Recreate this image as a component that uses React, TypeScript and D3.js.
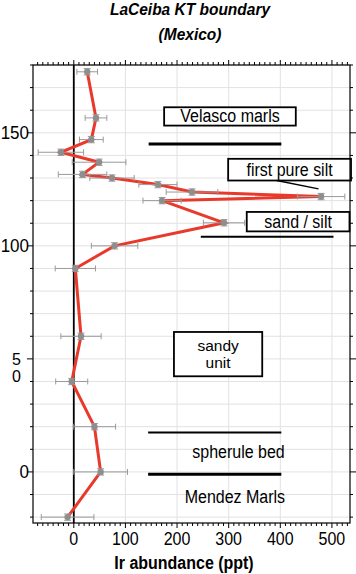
import React from "react";
import * as d3 from "d3";

// Data: Ir abundance (ppt) vs stratigraphic height
const irValues = [26, 43, 34, -25, 49, 17, 74, 163, 229, 479, 171, 291, 79, 3, 14, -4, 40, 52, -12];
const heights = [177, 156.6, 147, 141.4, 137, 131.6, 130, 127.1, 123.8, 121.8, 120, 110.2, 100, 90, 60, 40, 20, 0, -20];
const irErrors = [20, 21, 23, 44, 52, 47, 43, 37, 50, 46, 37, 40, 45, 39, 39, 31, 41, 52, 51];
const heightErrors = [1.4, 1.4, 1.4, 1.4, 1.4, 1.4, 1.4, 1.4, 1.4, 1.4, 1.4, 1.4, 1.4, 1.4, 1.4, 1.4, 1.4, 1.4, 1.4];

const xTickValues = [0, 100, 200, 300, 400, 500];
const yTickLabels = [
  { v: 150, lines: ["150"] },
  { v: 100, lines: ["100"] },
  { v: 50, lines: ["5", "0"] },
  { v: 0, lines: ["0"] },
];

const boxLabels = [
  { x0: 175, x1: 430, y0: 153.2, y1: 161.3, lines: ["Velasco marls"] },
  { x0: 299, x1: 537, y0: 128.9, y1: 138.5, lines: ["first pure silt"] },
  { x0: 335, x1: 534, y0: 106.4, y1: 115, lines: ["sand / silt"] },
  { x0: 194, x1: 365, y0: 42.3, y1: 61.9, lines: ["sandy", "unit"] },
];
const boundaryLines = [
  { x0: 145, x1: 402, y: 145, w: 3 },
  { x0: 246, x1: 503, y: 104, w: 2 },
  { x0: 144, x1: 402, y: 17.4, w: 2 },
  { x0: 144, x1: 402, y: -1, w: 3 },
];
const pointerLines = [{ x0: 393, y0: 128.9, x1: 474, y1: 125.2 }];
const freeLabels = [
  { x: 319, y: 9, text: "spherule bed" },
  { x: 312, y: -11, text: "Mendez Marls" },
];

const W = 356;
const H = 574;
const L = 33, R = 350, T = 65, B = 523;
const FONT = "'Liberation Sans', Arial, Helvetica, sans-serif";

export default function App() {
  const x = d3.scaleLinear().domain([-79, 535]).range([L, R]);
  const y = d3.scaleLinear().domain([-22.6, 180]).range([B, T]);

  const xMinor = d3.range(-70, 531, 10);
  const yMinor = d3.range(-20, 181, 10);
  const gridY = d3.range(-20, 181, 10);
  const gridX = [100, 200, 300, 400, 500];

  const line = d3
    .line<number>()
    .x((_, i) => x(irValues[i]))
    .y((_, i) => y(heights[i]));

  const vtext = (tx: number, ty: number, content: any, props: any, sy = 1.1) => (
    <text
      transform={`translate(${tx},${ty}) scale(1,${sy})`}
      fontFamily={FONT}
      {...props}
    >
      {content}
    </text>
  );

  return (
    <svg
      width={W}
      height={H}
      style={{ position: "absolute", left: 0, top: 0, background: "#fff" }}
    >
      <rect x={0} y={0} width={W} height={H} fill="#fff" />
      {/* grid */}
      {gridY.map((v) => (
        <line key={"gy" + v} x1={L} x2={R} y1={y(v)} y2={y(v)} stroke="#e2e2e2" strokeWidth={1} />
      ))}
      {gridX.map((v) => (
        <line key={"gx" + v} x1={x(v)} x2={x(v)} y1={T} y2={B} stroke="#e2e2e2" strokeWidth={1} />
      ))}
      {/* zero line */}
      <line x1={x(0)} x2={x(0)} y1={T} y2={B} stroke="#000" strokeWidth={1.8} />

      {/* data line */}
      <path d={line(irValues) || ""} fill="none" stroke="#e8392b" strokeWidth={3} strokeLinejoin="miter" />

      {/* error bars */}
      {irValues.map((v, i) => {
        const cx = x(v);
        const cy = y(heights[i]);
        const xl = x(v - irErrors[i]);
        const xr = x(v + irErrors[i]);
        const yt = y(heights[i] + heightErrors[i]);
        const yb = y(heights[i] - heightErrors[i]);
        return (
          <g key={"e" + i} stroke="#9a9a9a" strokeWidth={1}>
            <line x1={xl} x2={xr} y1={cy} y2={cy} />
            <line x1={xl} x2={xl} y1={cy - 3} y2={cy + 3} />
            <line x1={xr} x2={xr} y1={cy - 3} y2={cy + 3} />
            <line x1={cx} x2={cx} y1={yt} y2={yb} />
            <line x1={cx - 3.5} x2={cx + 3.5} y1={yt} y2={yt} />
            <line x1={cx - 3.5} x2={cx + 3.5} y1={yb} y2={yb} />
          </g>
        );
      })}
      {irValues.map((v, i) => (
        <circle key={"m" + i} cx={x(v)} cy={y(heights[i])} r={3.2} fill="#8e8e8e" />
      ))}

      {/* annotations */}
      {boundaryLines.map((b, i) => (
        <line key={"bl" + i} x1={x(b.x0)} x2={x(b.x1)} y1={y(b.y)} y2={y(b.y)} stroke="#000" strokeWidth={b.w} />
      ))}
      {pointerLines.map((p, i) => (
        <line key={"pl" + i} x1={x(p.x0)} x2={x(p.x1)} y1={y(p.y0)} y2={y(p.y1)} stroke="#000" strokeWidth={1.5} />
      ))}
      {boxLabels.map((b, i) => {
        const bx0 = x(b.x0), bx1 = x(b.x1), by0 = y(b.y1), by1 = y(b.y0);
        const cx = (bx0 + bx1) / 2;
        const cy = (by0 + by1) / 2;
        const n = b.lines.length;
        return (
          <g key={"bx" + i}>
            <rect x={bx0} y={by0} width={bx1 - bx0} height={by1 - by0} fill="#fff" stroke="#000" strokeWidth={1.8} />
            {n === 1
              ? vtext(cx, cy + 6, b.lines[0], { textAnchor: "middle", fontSize: 16, fill: "#000" })
              : b.lines.map((t, j) =>
                  vtext(
                    cx,
                    cy + 5.5 + (j - (n - 1) / 2) * 17,
                    t,
                    { key: "bt" + j, textAnchor: "middle", fontSize: 15.5, fill: "#000" },
                    1
                  )
                )}
          </g>
        );
      })}
      {freeLabels.map((f, i) =>
        vtext(x(f.x), y(f.y) + 6, f.text, { key: "fl" + i, textAnchor: "middle", fontSize: 16, fill: "#000" })
      )}

      {/* frame */}
      <rect x={L} y={T} width={R - L} height={B - T} fill="none" stroke="#000" strokeWidth={1.2} />

      {/* x ticks top & bottom */}
      {xMinor.map((v) => {
        const major = v % 100 === 0;
        const len = major ? 5 : 3;
        return (
          <g key={"xt" + v} stroke="#000" strokeWidth={1}>
            <line x1={x(v)} x2={x(v)} y1={T} y2={T - len} />
            <line x1={x(v)} x2={x(v)} y1={B} y2={B + len} />
          </g>
        );
      })}
      {/* y ticks left & right */}
      {yMinor.map((v) => {
        const major = v % 50 === 0;
        const len = major ? 6 : 3;
        return (
          <g key={"yt" + v} stroke="#000" strokeWidth={1}>
            <line x1={L} x2={L - len} y1={y(v)} y2={y(v)} />
            <line x1={R} x2={R + len} y1={y(v)} y2={y(v)} />
          </g>
        );
      })}

      {/* tick labels */}
      {xTickValues.map((v) =>
        vtext(x(v), 545, String(v), { key: "xl" + v, textAnchor: "middle", fontSize: 16, fill: "#000" })
      )}
      {yTickLabels.map((t) =>
        t.lines.length === 1
          ? vtext(29, y(t.v) + 6.5, t.lines[0], { key: "yl" + t.v, textAnchor: "end", fontSize: 17, fill: "#000" })
          : t.lines.map((ln, j) =>
              vtext(
                21,
                y(t.v) + 6 + j * 17,
                ln,
                { key: "yl" + t.v + "-" + j, textAnchor: "end", fontSize: 16, fill: "#000" },
                1
              )
            )
      )}

      {/* axis title */}
      {vtext(184, 569, "Ir abundance (ppt)", { textAnchor: "middle", fontSize: 16, fontWeight: "bold", fill: "#000" })}

      {/* chart title */}
      {vtext(190, 15, "LaCeiba KT boundary", { textAnchor: "middle", fontSize: 15.5, fontWeight: "bold", fontStyle: "italic", fill: "#000" })}
      {vtext(190, 40, "(Mexico)", { textAnchor: "middle", fontSize: 15.5, fontWeight: "bold", fontStyle: "italic", fill: "#000" })}
    </svg>
  );
}
